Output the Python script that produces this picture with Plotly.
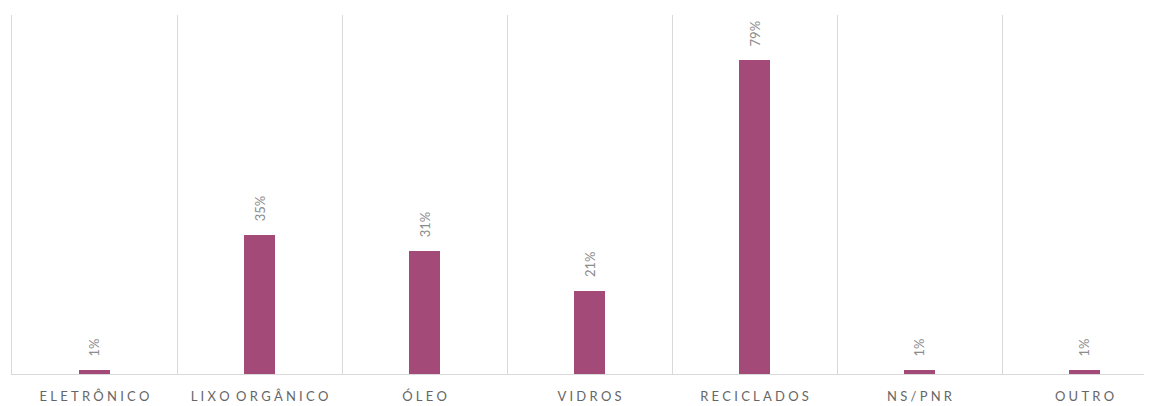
import plotly.graph_objects as go

categories = ["ELETRÔNICO", "LIXO ORGÂNICO", "ÓLEO", "VIDROS", "RECICLADOS", "NS/PNR", "OUTRO"]
values = [1, 35, 31, 21, 79, 1, 1]
labels = ["1%", "35%", "31%", "21%", "79%", "1%", "1%"]

BAR_COLOR = "#A34A78"
GRID = "#D9D9D9"


def spaced(s):
    # imitate the wide letter spacing of the original axis labels
    words = s.split(" ")
    return "\u2002".join("\u2005".join(w) for w in words)


fig = go.Figure()
fig.add_trace(
    go.Bar(
        x=categories,
        y=values,
        marker=dict(color=BAR_COLOR, line=dict(width=0)),
        width=0.185,
        hoverinfo="x+y",
    )
)

for cat, val, lab in zip(categories, values, labels):
    fig.add_annotation(
        x=cat,
        y=val,
        text=lab,
        textangle=-90,
        showarrow=False,
        yanchor="bottom",
        yshift=11,
        font=dict(family="Lato, Open Sans, sans-serif", size=13, color="#8C8C8C"),
    )

# the page body adds an 8px offset, so the figure is a little smaller
fig.update_layout(
    width=1144,
    height=398,
    margin=dict(l=4, r=0, t=7, b=32),
    plot_bgcolor="white",
    paper_bgcolor="white",
    showlegend=False,
    bargap=0,
    xaxis=dict(
        tickmode="array",
        tickvals=categories,
        ticktext=[spaced(c) for c in categories],
        tickson="boundaries",
        showgrid=True,
        gridcolor=GRID,
        gridwidth=1,
        showline=True,
        linecolor=GRID,
        linewidth=1,
        ticks="",
        ticklabelstandoff=10,
        automargin=False,
        range=[-0.5, 6.409],
        tickfont=dict(family="Lato, Open Sans, sans-serif", size=13, color="#666666"),
        fixedrange=True,
    ),
    yaxis=dict(
        range=[0, 90.3],
        showgrid=False,
        zeroline=False,
        showline=True,
        linecolor=GRID,
        linewidth=1,
        showticklabels=False,
        fixedrange=True,
    ),
)

fig.write_html("out.html")
